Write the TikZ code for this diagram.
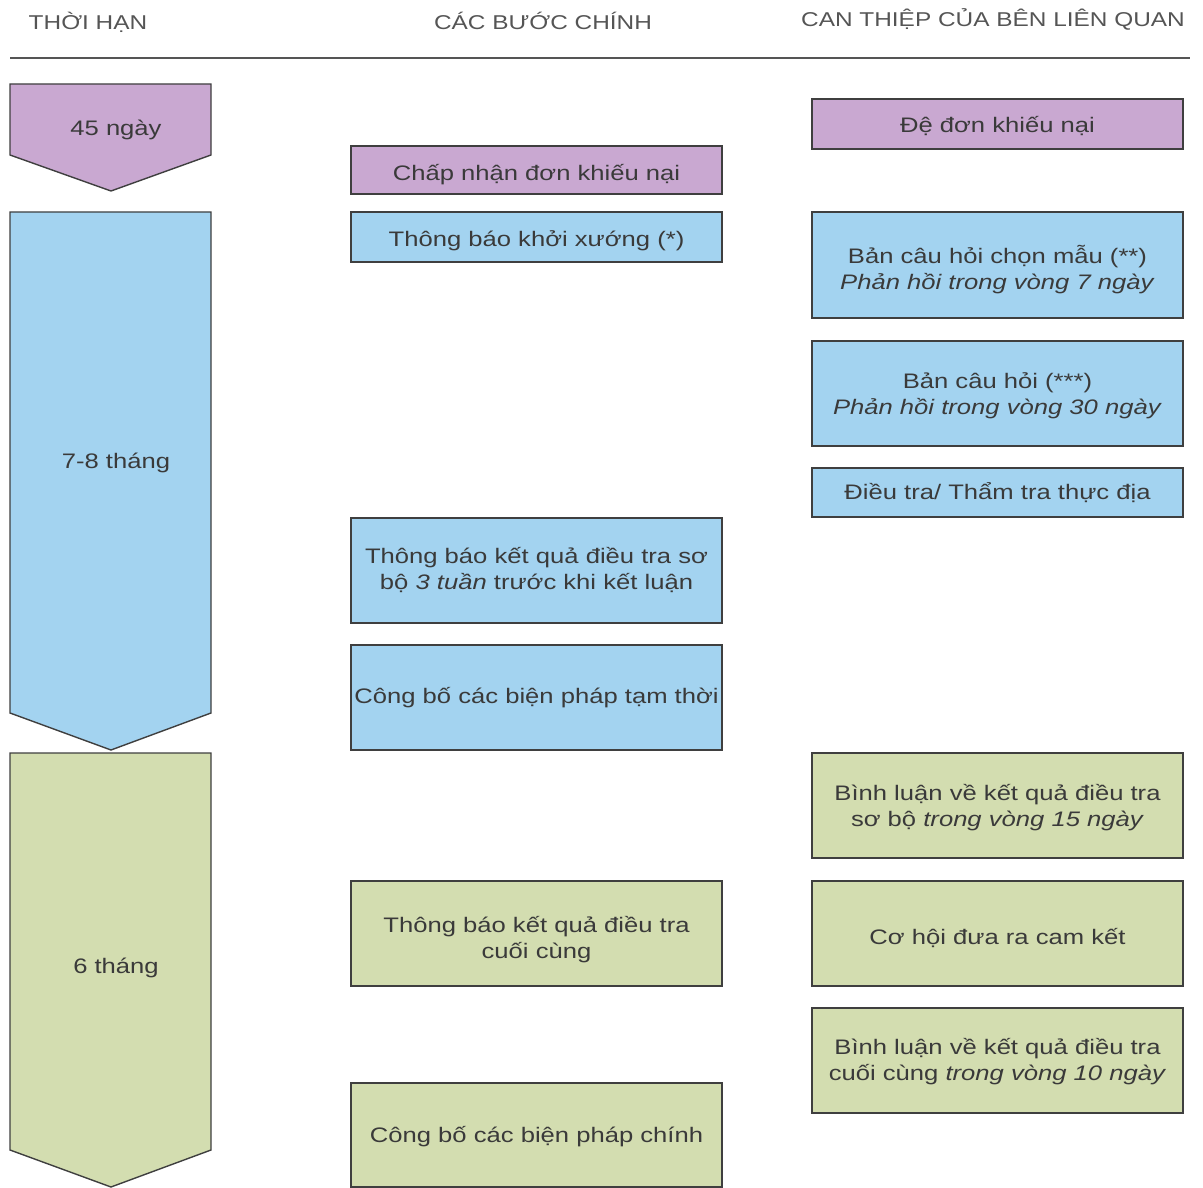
\documentclass[tikz,border=0pt]{standalone}
\usepackage{fontspec}
\setmainfont{Liberation Sans}[FakeStretch=1.22]
\definecolor{pur}{HTML}{C9A8D1}
\definecolor{blu}{HTML}{A3D3F0}
\definecolor{grn}{HTML}{D3DDB0}
\definecolor{bord}{HTML}{3F3F3F}
\definecolor{txt}{HTML}{3A3A3A}
\definecolor{hdr}{HTML}{555555}
\tikzset{
  box/.style={draw=bord, line width=1.4pt, minimum width=371pt, inner sep=0pt},
  arr/.style={draw=bord, line width=1.4pt},
  lbl/.style={text=txt, align=center, font=\fontsize{21}{26}\selectfont, inner sep=0pt},
  hd/.style={text=hdr, font=\fontsize{20}{24}\selectfont, inner sep=0pt}
}
\begin{document}
\begin{tikzpicture}[x=1pt,y=-1pt]
\useasboundingbox (0,0) rectangle (1203,1188);
% headers
\node[hd] (h1) at (88,22) {THỜI HẠN};
\node[hd] (h2) at (543,21) {CÁC BƯỚC CHÍNH};
\node[hd] (h3) at (993,19) {CAN THIỆP CỦA BÊN LIÊN QUAN};
\draw[draw=hdr, line width=1.6pt] (10,58) -- (1190,58);
% left arrows
\draw[arr, fill=pur] (10,84) -- (211,84) -- (211,155) -- (111,191) -- (10,155) -- cycle;
\node[lbl] (t1) at (116,130) {45 ngày};
\draw[arr, fill=blu] (10,212) -- (211,212) -- (211,713) -- (111,750) -- (10,713) -- cycle;
\node[lbl] (t2) at (116,463) {7-8 tháng};
\draw[arr, fill=grn] (10,753) -- (211,753) -- (211,1150) -- (111,1187) -- (10,1150) -- cycle;
\node[lbl] (t3) at (116,968) {6 tháng};
% middle column
\node[box, fill=pur, minimum height=48pt, label={[lbl,yshift=-5pt]center:Chấp nhận đơn khiếu nại}] (m1) at (536.5,170) {};
\node[box, fill=blu, minimum height=50pt, label={[lbl,yshift=-4pt]center:Thông báo khởi xướng (*)}] (m2) at (536.5,237) {};
\node[box, fill=blu, minimum height=105pt, label={[lbl,yshift=0pt]center:Thông báo kết quả điều tra sơ\\bộ \textit{3 tuần} trước khi kết luận}] (m3) at (536.5,570.5) {};
\node[box, fill=blu, minimum height=105pt, label={[lbl,yshift=0pt]center:Công bố các biện pháp tạm thời}] (m4) at (536.5,697.5) {};
\node[box, fill=grn, minimum height=105pt, label={[lbl,yshift=-6pt]center:Thông báo kết quả điều tra\\cuối cùng}] (m5) at (536.5,933.5) {};
\node[box, fill=grn, minimum height=104pt, label={[lbl,yshift=-2pt]center:Công bố các biện pháp chính}] (m6) at (536.5,1135) {};
% right column
\node[box, fill=pur, minimum height=50pt, label={[lbl,yshift=-2pt]center:Đệ đơn khiếu nại}] (r1) at (997.5,124) {};
\node[box, fill=blu, minimum height=106pt, label={[lbl,yshift=-5pt]center:Bản câu hỏi chọn mẫu (**)\\\textit{Phản hồi trong vòng 7 ngày}}] (r2) at (997.5,265) {};
\node[box, fill=blu, minimum height=105pt, label={[lbl,yshift=-2pt]center:Bản câu hỏi (***)\\\textit{Phản hồi trong vòng 30 ngày}}] (r3) at (997.5,393.5) {};
\node[box, fill=blu, minimum height=49pt, label={[lbl,yshift=0pt]center:Điều tra/ Thẩm tra thực địa}] (r4) at (997.5,492.5) {};
\node[box, fill=grn, minimum height=105pt, label={[lbl,yshift=-2pt]center:Bình luận về kết quả điều tra\\sơ bộ \textit{trong vòng 15 ngày}}] (r5) at (997.5,805.5) {};
\node[box, fill=grn, minimum height=105pt, label={[lbl,yshift=-5pt]center:Cơ hội đưa ra cam kết}] (r6) at (997.5,933.5) {};
\node[box, fill=grn, minimum height=105pt, label={[lbl,yshift=-1pt]center:Bình luận về kết quả điều tra\\cuối cùng \textit{trong vòng 10 ngày}}] (r7) at (997.5,1060.5) {};
\end{tikzpicture}
\end{document}
